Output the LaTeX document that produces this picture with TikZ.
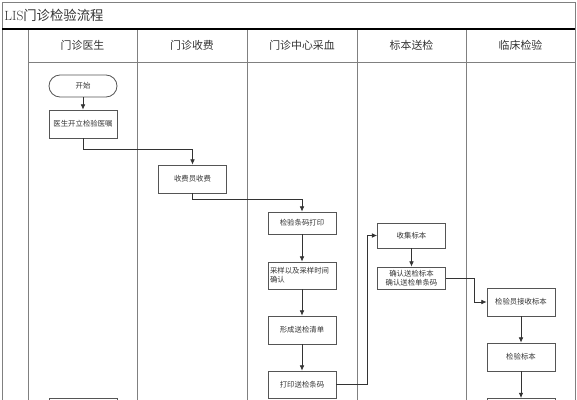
\documentclass[tikz,border=0pt]{standalone}
\usepackage{fontspec}
\newfontfamily\cjk{Noto Sans CJK SC}
\usetikzlibrary{arrows.meta}
\definecolor{txt}{HTML}{333333}
\definecolor{boxline}{HTML}{555555}
\definecolor{laneline}{HTML}{808080}

\begin{document}
\begin{tikzpicture}[x=0.05cm,y=-0.05cm,
  box/.style={rectangle,draw=boxline,line width=1.2pt,minimum width=3.4cm,minimum height=1.4cm,inner sep=1mm,align=center,font=\cjk\fontsize{10.5}{13}\selectfont,text=txt},
  start/.style={box,rounded corners=5.5mm,minimum height=1.1cm},
  head/.style={font=\cjk\fontsize{15.5}{18}\selectfont,text=txt},
  lane/.style={draw=laneline,line width=1.3pt},
  link/.style={draw=txt,line width=1pt,-{Latex[length=2.6mm,width=2.3mm]}}]
\useasboundingbox (0,0) rectangle (577,400);
\clip (0,0) rectangle (577,400);
% swimlanes
\draw[lane] (2,2) rectangle (575,430);
\foreach \x in {28,137,247,357,466} \draw[lane] (\x,29) -- (\x,430);
\draw[lane] (28,62) -- (575,62);
\draw[black,line width=2.2pt] (2,29) -- (575,29);
\node (title) [anchor=west,text=txt,font=\fontsize{19}{21}\selectfont] at (2,15) {LIS{\cjk 门诊检验流程}};
\path (82.5,45) node(h1)[head]{门诊医生}
(192,45) node(h2)[head]{门诊收费}
(302,45) node(h3)[head]{门诊中心采血}
(411.5,45) node(h4)[head]{标本送检}
(520.5,45) node(h5)[head]{临床检验};
% steps
\path (83,86) node(a)[start]{开始}
(83,124) node(b)[box]{医生开立检验医嘱}
(192.5,179) node(c)[box]{收费员收费}
(302,223) node(d)[box,minimum height=1.1cm]{检验条码打印}
(302,275.5) node(e)[box,minimum height=1.35cm,align=left,text width=3.2cm]{采样以及采样时间\\确认}
(302,330) node(f)[box]{形成送检清单}
(302,384.5) node(g)[box,minimum height=1.35cm]{打印送检条码}
(411.5,235.5) node(i)[box,minimum height=1.25cm]{收集标本}
(411.5,278) node(j)[box,minimum height=1.1cm,inner ysep=0.5mm]{确认送检标本\\确认送检单条码}
(521,302) node(k)[box]{检验员接收标本}
(521,357) node(l)[box]{检验标本}
(83,398) node(m)[box,anchor=north]{}
(521,398) node(n)[box,anchor=north]{};
\draw[link](a)--(b);
\draw[link](b.south)--++(0,11)-|(c.north);
\draw[link](c.south)--++(0,6)-|(d.north);
\draw[link](d)--(e);
\draw[link](e)--(f);
\draw[link](f)--(g);
\draw[link](g.east)--++(31,0)|-(i.west);
\draw[link](i)--(j);
\draw[link](j.east)--++(28,0)|-(k.west);
\draw[link](k)--(l);
\draw[link](l)--(n);
\end{tikzpicture}
\end{document}
